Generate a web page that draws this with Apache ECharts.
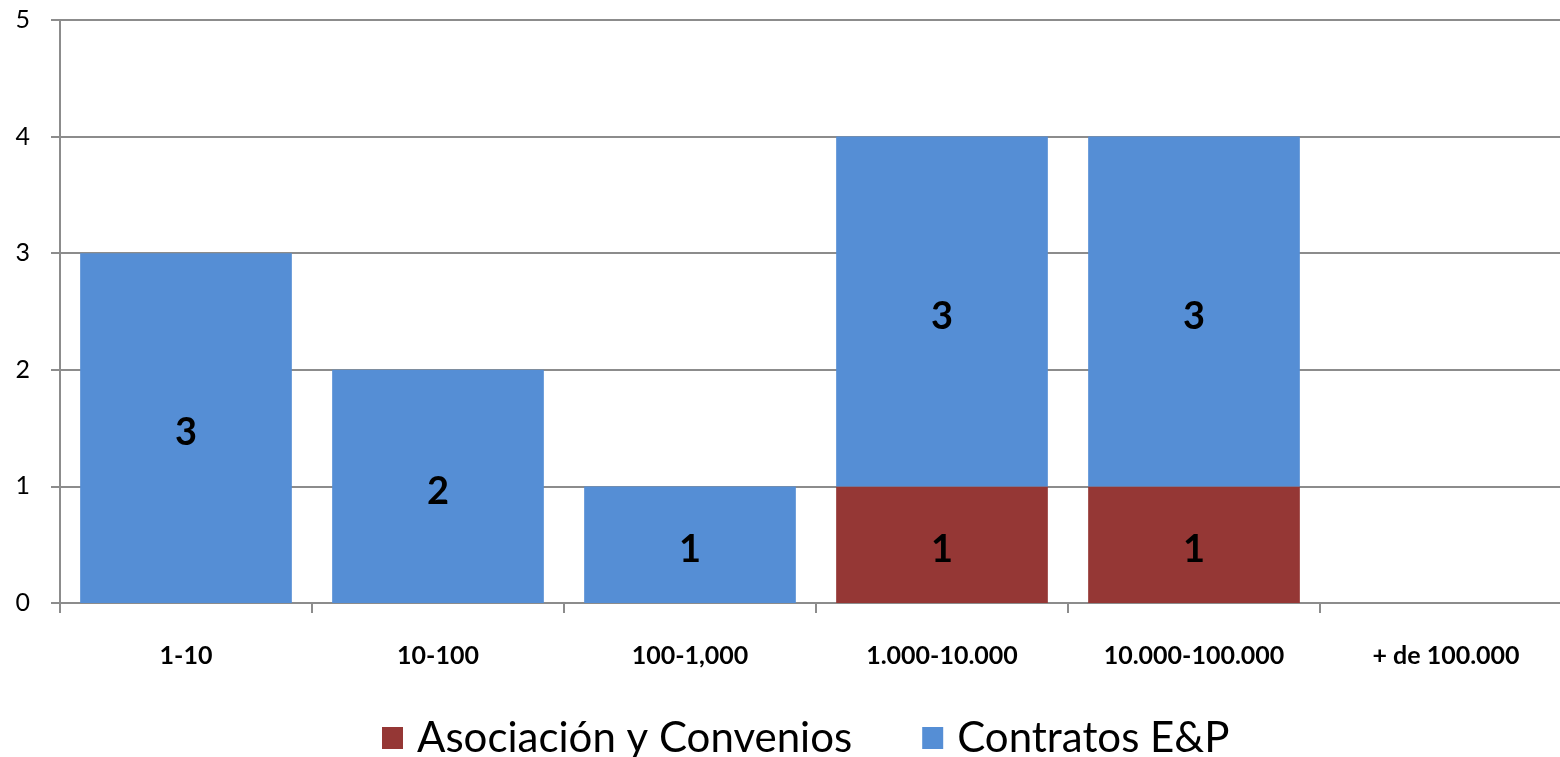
<!DOCTYPE html>
<html>
<head>
<meta charset="utf-8">
<script src="https://cdn.jsdelivr.net/npm/echarts@6/dist/echarts.min.js"></script>
<style>
  html, body { margin: 0; padding: 0; background: #fff; }
  #chart { width: 1560px; height: 757px; }
</style>
</head>
<body>
<div id="chart"></div>
<script>
// datos del gráfico
const categorias = ["1-10", "10-100", "100-1,000", "1.000-10.000", "10.000-100.000", "+ de 100.000"];
const asociacion = [0, 0, 0, 1, 1, 0];
const contratos = [3, 2, 1, 3, 3, 0];

const fuente = "Lato, 'Open Sans', sans-serif";
const gris = "#8c8c8c";

const chart = echarts.init(document.getElementById("chart"));

// etiqueta dentro de la barra, sin mostrar ceros
const etiqueta = {
  show: true,
  position: "inside",
  offset: [0, 5],
  color: "#000",
  fontFamily: fuente,
  fontWeight: "bold",
  fontSize: 38,
  formatter: (p) => (p.value ? p.value : ""),
};

const option = {
  backgroundColor: "#ffffff",
  animation: false,
  grid: {
    left: 60,
    width: 1512,
    top: 20,
    bottom: 154,
    containLabel: false,
    outerBoundsMode: "none",
  },
  legend: {
    top: 712,
    left: 377,
    itemWidth: 21,
    itemHeight: 22,
    itemGap: 70,
    icon: "rect",
    textStyle: { fontFamily: fuente, fontSize: 42, color: "#000", padding: [0, 0, 0, 9] },
    data: ["Asociación y Convenios", "Contratos E&P"],
  },
  xAxis: {
    type: "category",
    data: categorias,
    axisLine: { lineStyle: { color: gris, width: 2 } },
    axisTick: { show: true, length: 10, alignWithLabel: false, lineStyle: { color: gris, width: 2 } },
    axisLabel: {
      margin: 40,
      color: "#000",
      fontFamily: fuente,
      fontWeight: "bold",
      fontSize: 25,
      interval: 0,
    },
  },
  yAxis: {
    type: "value",
    min: 0,
    max: 5,
    interval: 1,
    axisLine: { show: true, lineStyle: { color: gris, width: 2 } },
    axisTick: { show: true, length: 9, lineStyle: { color: gris, width: 2 } },
    splitLine: { lineStyle: { color: gris, width: 2 } },
    axisLabel: { margin: 30, color: "#000", fontFamily: fuente, fontSize: 25 },
  },
  series: [
    {
      name: "Asociación y Convenios",
      type: "bar",
      stack: "total",
      barWidth: "84%",
      itemStyle: { color: "#953735" },
      label: etiqueta,
      data: asociacion,
    },
    {
      name: "Contratos E&P",
      type: "bar",
      stack: "total",
      barWidth: "84%",
      itemStyle: { color: "#558ED5" },
      label: etiqueta,
      data: contratos,
    },
  ],
};

chart.setOption(option);
</script>
</body>
</html>
